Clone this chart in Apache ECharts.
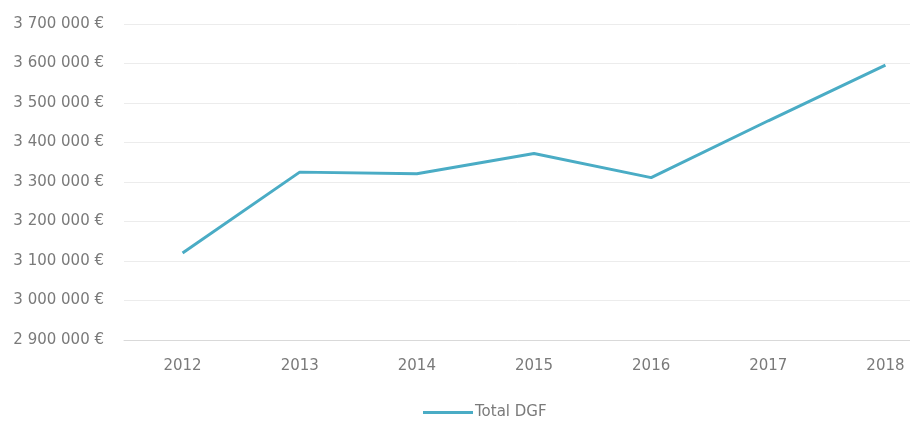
<!DOCTYPE html>
<html>
<head>
<meta charset="utf-8">
<script src="https://cdn.jsdelivr.net/npm/echarts@6/dist/echarts.min.js"></script>
<style>
  html, body { margin: 0; padding: 0; background: #ffffff; }
  #chart { width: 910px; height: 422px; }
</style>
</head>
<body>
<div id="chart"></div>
<script>
// Total DGF per year (euros)
const years = ['2012', '2013', '2014', '2015', '2016', '2017', '2018'];
const totalDGF = [3120000, 3325000, 3321000, 3372000, 3311000, 3455000, 3596000];
const seriesName = 'Total DGF';

// Value axis range
const yMin = 2900000;
const yMax = 3700000;
const yStep = 100000;

function formatEuro(v) {
  const s = String(Math.round(v));
  return s.replace(/\B(?=(\d{3})+(?!\d))/g, ' ') + ' €';
}

const textColor = '#7a7a7a';
const fontFamily = 'DejaVu Sans';

const chart = echarts.init(document.getElementById('chart'));
chart.setOption({
  backgroundColor: '#ffffff',
  animation: false,
  grid: { left: 124, top: 24, bottom: 82, right: -34, outerBoundsMode: 'none', containLabel: false },
  legend: {
    data: [seriesName],
    left: 418,
    top: 400,
    itemWidth: 50,
    itemHeight: 14,
    itemGap: 10,
    icon: 'path://M0,6 L50,6 L50,9 L0,9 Z',
    textStyle: { color: textColor, fontSize: 15, fontFamily: fontFamily, padding: [0, 0, 0, -3] }
  },
  xAxis: {
    type: 'category',
    data: years,
    boundaryGap: true,
    axisLine: { show: true, lineStyle: { color: '#d9d9d9', width: 1 } },
    axisTick: { show: false },
    axisLabel: { color: textColor, fontSize: 15, fontFamily: fontFamily, margin: 19 }
  },
  yAxis: {
    type: 'value',
    min: yMin,
    max: yMax,
    interval: yStep,
    axisLine: { show: false },
    axisTick: { show: false },
    splitLine: { lineStyle: { color: '#ececec', width: 1 } },
    axisLabel: {
      color: textColor, fontSize: 15, fontFamily: fontFamily, margin: 20,
      formatter: formatEuro
    }
  },
  series: [{
    name: seriesName,
    type: 'line',
    data: totalDGF,
    symbol: 'none',
    lineStyle: { color: '#4aacc5', width: 3 },
    itemStyle: { color: '#4aacc5' }
  }]
});
</script>
</body>
</html>
